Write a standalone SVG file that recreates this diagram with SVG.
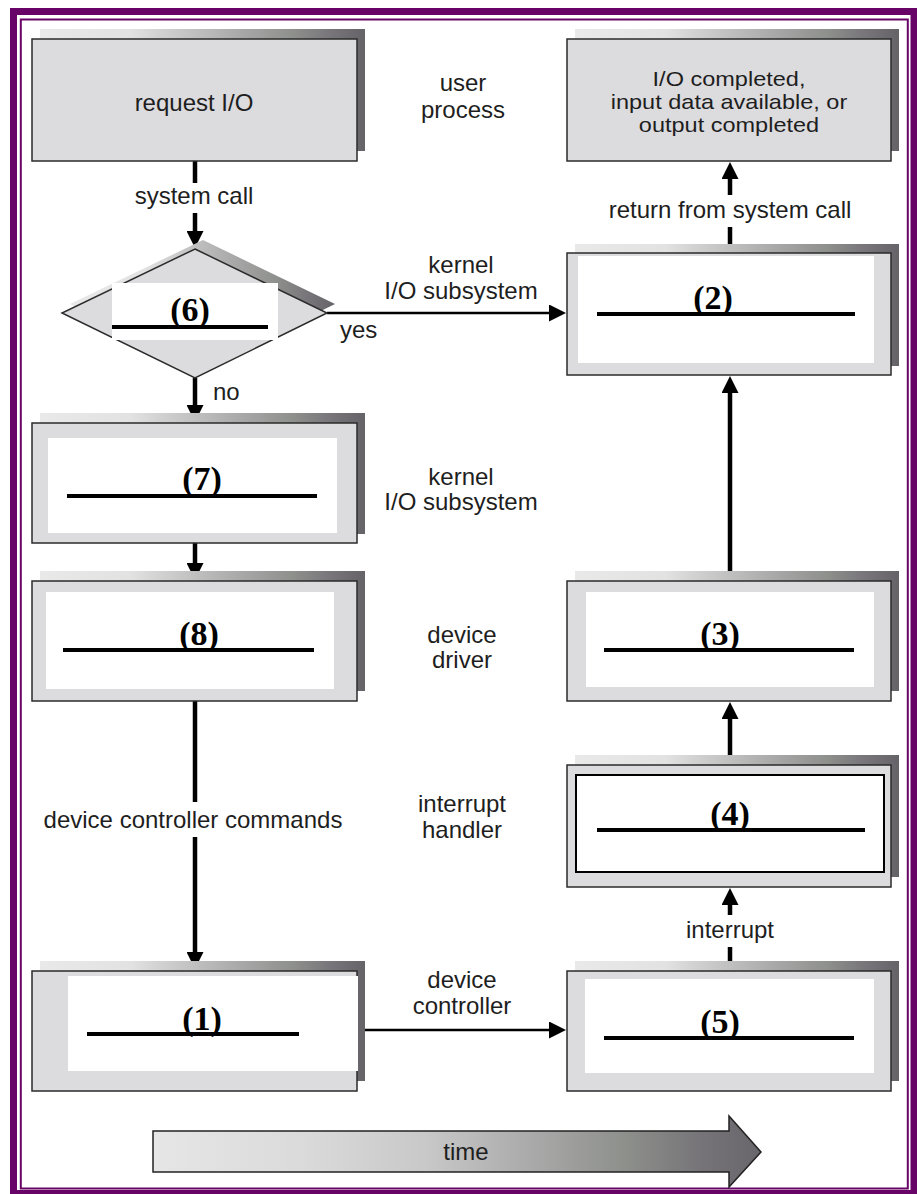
<svg xmlns="http://www.w3.org/2000/svg" width="917" height="1194" viewBox="0 0 917 1194">
<style>
.t{font-family:"Liberation Sans",Arial,sans-serif;font-size:24px;fill:#1e1e1e;text-anchor:middle}
.ts{font-family:"Liberation Sans",Arial,sans-serif;font-size:21px;fill:#1e1e1e;text-anchor:middle}
.n{font-family:"Liberation Serif","Times New Roman",serif;font-weight:bold;font-size:34px;fill:#000;text-anchor:middle}
.box{fill:#dcdbde;stroke:#2b2b2b;stroke-width:1.5}
.sh{fill:url(#shg)}
.in{fill:#fff}
.ul{stroke:#000;stroke-width:4}
.c{fill:none;stroke:#000;stroke-width:4.5}
.ch{fill:none;stroke:#000;stroke-width:2.5}
</style>
<defs>
<linearGradient id="shg" x1="0" y1="0" x2="1" y2="0">
<stop offset="0" stop-color="#e9e9e9"/>
<stop offset="0.28" stop-color="#e2e2e2"/>
<stop offset="0.36" stop-color="#d3d3d3"/>
<stop offset="0.5" stop-color="#bcbcbc"/>
<stop offset="0.65" stop-color="#a3a3a3"/>
<stop offset="0.78" stop-color="#8e908c"/>
<stop offset="0.88" stop-color="#7a787c"/>
<stop offset="1" stop-color="#656368"/>
</linearGradient>
<linearGradient id="tg" x1="0" y1="0" x2="1" y2="0">
<stop offset="0" stop-color="#e6e6e6"/>
<stop offset="0.25" stop-color="#dadada"/>
<stop offset="0.45" stop-color="#c8c8c8"/>
<stop offset="0.62" stop-color="#aaaaaa"/>
<stop offset="0.78" stop-color="#8d8f8b"/>
<stop offset="0.9" stop-color="#767478"/>
<stop offset="1" stop-color="#68666b"/>
</linearGradient>
<marker id="ah" viewBox="0 0 10 10" refX="0" refY="5" markerWidth="18" markerHeight="17" markerUnits="userSpaceOnUse" orient="auto">
<path d="M0,0 L10,5 L0,10 z" fill="#000"/>
</marker>
</defs>

<g id="frame">
<rect x="13.5" y="11.5" width="900.5" height="1182" fill="none" stroke="#680467" stroke-width="7"/>
<rect x="20.8" y="19.5" width="887" height="1169" fill="none" stroke="#680467" stroke-width="2"/>
</g>

<g id="connectors">
<path class="c" d="M195,161 V183"/>
<path class="c" d="M195,213 V231" marker-end="url(#ah)"/>
<path class="c" d="M195,378 V405" marker-end="url(#ah)"/>
<path class="c" d="M195,543 V563" marker-end="url(#ah)"/>
<path class="c" d="M195,701 V802"/>
<path class="c" d="M195,837 V952" marker-end="url(#ah)"/>
<path class="ch" d="M357,1030 H549" marker-end="url(#ah)"/>
<path class="ch" d="M327,313 H549" marker-end="url(#ah)"/>
<path class="c" d="M730,971 V947"/>
<path class="c" d="M730,915 V905" marker-end="url(#ah)"/>
<path class="c" d="M730,765 V719" marker-end="url(#ah)"/>
<path class="c" d="M730,581 V393" marker-end="url(#ah)"/>
<path class="c" d="M730,253 V227"/>
<path class="c" d="M730,195 V179" marker-end="url(#ah)"/>
</g>

<g id="labels">
<text class="t" x="194" y="204">system call</text>
<text class="t" x="730" y="218">return from system call</text>
<text class="t" x="213" y="400" style="text-anchor:start">no</text>
<text class="t" x="340" y="338" style="text-anchor:start">yes</text>
<text class="t" x="193" y="828">device controller commands</text>
<text class="t" x="730" y="938">interrupt</text>
<text class="t" x="463" y="91">user</text>
<text class="t" x="463" y="118">process</text>
<text class="t" x="461" y="273">kernel</text>
<text class="t" x="461" y="299">I/O subsystem</text>
<text class="t" x="461" y="485">kernel</text>
<text class="t" x="461" y="510">I/O subsystem</text>
<text class="t" x="462" y="643">device</text>
<text class="t" x="462" y="668">driver</text>
<text class="t" x="462" y="812">interrupt</text>
<text class="t" x="462" y="838">handler</text>
<text class="t" x="462" y="988">device</text>
<text class="t" x="462" y="1014">controller</text>
</g>

<g id="request-io">
<rect class="sh" x="40" y="29" width="325" height="122"/>
<rect class="box" x="32" y="39" width="325" height="122"/>
<text class="t" x="194" y="111">request I/O</text>
</g>

<g id="io-completed">
<rect class="sh" x="575" y="29" width="324" height="122"/>
<rect class="box" x="567" y="39" width="324" height="122"/>
<g transform="translate(729,0) scale(1.12,1)">
<text class="ts" x="0" y="86">I/O completed,</text>
<text class="ts" x="0" y="109">input data available, or</text>
<text class="ts" x="0" y="132">output completed</text>
</g>
</g>

<g id="n6">
<polygon class="sh" points="203,240 335,304 203,369 70,304"/>
<polygon class="box" points="195,249 327,313 195,378 62,313"/>
<rect class="in" x="112" y="283" width="166" height="57"/>
<text class="n" x="190" y="321">(6)</text>
<line class="ul" x1="112" y1="327" x2="268" y2="327"/>
</g>

<g id="n2">
<rect class="sh" x="575" y="244" width="324" height="122"/>
<rect class="box" x="567" y="253" width="324" height="122"/>
<rect class="in" x="578" y="256" width="296" height="107"/>
<text class="n" x="713" y="309">(2)</text>
<line class="ul" x1="597" y1="314" x2="855" y2="314"/>
</g>

<g id="n7">
<rect class="sh" x="40" y="413" width="325" height="121"/>
<rect class="box" x="32" y="423" width="325" height="120"/>
<rect class="in" x="48" y="438" width="289" height="95"/>
<text class="n" x="202" y="490">(7)</text>
<line class="ul" x1="67" y1="496" x2="317" y2="496"/>
</g>

<g id="n8">
<rect class="sh" x="40" y="571" width="325" height="120"/>
<rect class="box" x="32" y="581" width="325" height="120"/>
<rect class="in" x="46" y="592" width="288" height="97"/>
<text class="n" x="199" y="645">(8)</text>
<line class="ul" x1="63" y1="650" x2="314" y2="650"/>
</g>

<g id="n3">
<rect class="sh" x="575" y="571" width="324" height="120"/>
<rect class="box" x="567" y="581" width="324" height="120"/>
<rect class="in" x="586" y="592" width="288" height="95"/>
<text class="n" x="720" y="645">(3)</text>
<line class="ul" x1="604" y1="650" x2="854" y2="650"/>
</g>

<g id="n4">
<rect class="sh" x="575" y="755" width="324" height="122"/>
<rect class="box" x="567" y="765" width="324" height="122"/>
<rect x="576" y="775" width="308" height="97" fill="#fff" stroke="#000" stroke-width="2"/>
<text class="n" x="730" y="825">(4)</text>
<line class="ul" x1="597" y1="830" x2="865" y2="830"/>
</g>

<g id="n1">
<rect class="sh" x="40" y="961" width="325" height="120"/>
<rect class="box" x="32" y="971" width="325" height="120"/>
<rect class="in" x="68" y="976" width="290" height="95"/>
<text class="n" x="202" y="1030">(1)</text>
<line class="ul" x1="87" y1="1034" x2="299" y2="1034"/>
</g>

<g id="n5">
<rect class="sh" x="575" y="961" width="324" height="120"/>
<rect class="box" x="567" y="971" width="324" height="120"/>
<rect class="in" x="585" y="979" width="289" height="94"/>
<text class="n" x="720" y="1033">(5)</text>
<line class="ul" x1="604" y1="1038" x2="854" y2="1038"/>
</g>

<g id="time">
<polygon points="153,1131 729,1131 729,1116 761,1152 729,1187 729,1172 153,1172" fill="url(#tg)" stroke="#222" stroke-width="1.5"/>
<text class="t" x="466" y="1160">time</text>
</g>
</svg>
